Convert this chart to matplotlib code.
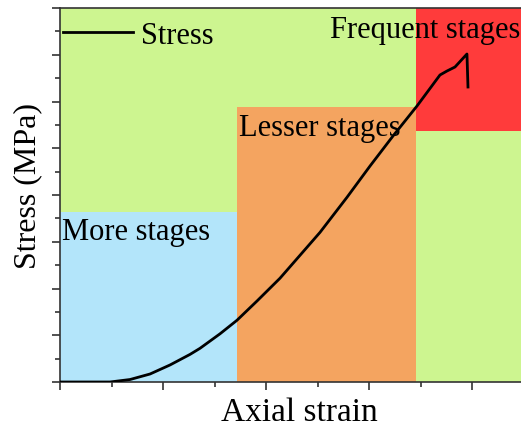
import numpy as np
import matplotlib
matplotlib.use("Agg")
import matplotlib.pyplot as plt
from matplotlib.ticker import MultipleLocator, NullFormatter

plt.rcParams['font.family'] = ['Liberation Serif', 'DejaVu Serif']

# stress-strain curve (arbitrary units)
strain = [0.0, 0.485, 0.68, 0.874, 1.068, 1.262, 1.359, 1.553, 1.718, 1.913, 2.136,
          2.524, 2.786, 3.01, 3.233, 3.466, 3.689, 3.757, 3.835, 3.951, 3.961]
stress = [0.0, 0.0, 0.053, 0.171, 0.364, 0.59, 0.72, 1.03, 1.32, 1.733, 2.22,
          3.2, 3.95, 4.62, 5.262, 5.904, 6.567, 6.652, 6.738, 7.016, 6.31]

# stage regions
stage_names = ["More stages", "Lesser stages", "Frequent stages"]
stage_x0 = [0.0, 1.72, 3.46]
stage_x1 = [1.72, 3.46, 5.0]
stage_y0 = [0.0, 0.0, 5.37]
stage_y1 = [3.64, 5.88, 8.0]
stage_col = ["#B3E5FA", "#F4A460", "#FF3B3B"]

fig = plt.figure(figsize=(5.21, 4.31), dpi=100)
ax = fig.add_axes([60/521, 48/431, 515/521, 374/431])
ax.set_facecolor("#CDF590")

for x0, x1, y0, y1, c in zip(stage_x0, stage_x1, stage_y0, stage_y1, stage_col):
    ax.fill_between([x0, x1], y0, y1, color=c, lw=0, zorder=1)

ax.plot(strain, stress, color='k', lw=2, zorder=3, label="Stress",
        solid_joinstyle='round')

ax.text(0.02, 3.52, stage_names[0], fontsize=22, va='top', zorder=4)
ax.text(1.74, 5.76, stage_names[1], fontsize=22, va='top', zorder=4)
ax.text(2.62, 7.84, stage_names[2], fontsize=22, va='top', zorder=4)

ax.set_xlim(0, 5)
ax.set_ylim(0, 8)
ax.xaxis.set_major_locator(MultipleLocator(1))
ax.xaxis.set_minor_locator(MultipleLocator(0.5))
ax.yaxis.set_major_locator(MultipleLocator(1))
ax.yaxis.set_minor_locator(MultipleLocator(0.5))
ax.xaxis.set_major_formatter(NullFormatter())
ax.yaxis.set_major_formatter(NullFormatter())
ax.tick_params(which='major', direction='out', length=6, width=1.2, color='#333333')
ax.tick_params(which='minor', direction='out', length=3.5, width=1.2, color='#333333')
ax.tick_params(top=False, right=False)
for s in ax.spines.values():
    s.set_color('#333333')
    s.set_linewidth(1.2)

ax.set_xlabel("Axial strain", fontsize=24)
ax.set_ylabel("Stress (MPa)", fontsize=23)
# label centres in axes fraction
ax.xaxis.set_label_coords((299-60)/515, -(413-383)/374)
ax.yaxis.set_label_coords(-(60-28)/515, (383-186)/374)
ax.xaxis.label.set_va('center')
ax.yaxis.label.set_va('center')

ax.legend(loc='upper left', frameon=False, fontsize=22, handlelength=2.3,
          borderaxespad=0.0, borderpad=0.1, bbox_to_anchor=(0.0, 0.973),
          handletextpad=0.25)

fig.savefig("out.png", dpi=100)
